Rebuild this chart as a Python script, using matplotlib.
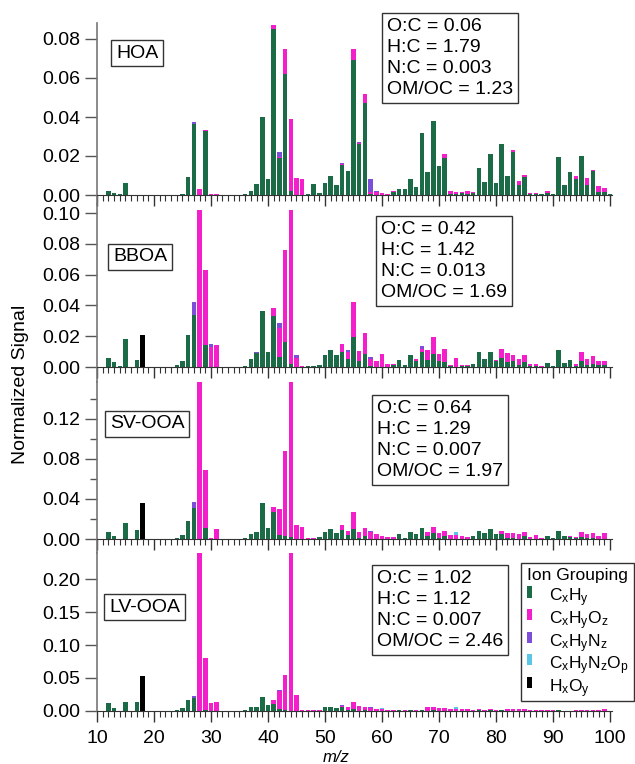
import numpy as np
import matplotlib
matplotlib.use('Agg')
import matplotlib.pyplot as plt
from matplotlib.patches import Patch
from matplotlib.ticker import MultipleLocator, FormatStrFormatter

plt.rcParams['font.family'] = ['Liberation Sans', 'DejaVu Sans']
plt.rcParams['mathtext.fontset'] = 'custom'
plt.rcParams['mathtext.rm'] = 'Liberation Sans'
plt.rcParams['mathtext.it'] = 'Liberation Sans:italic'

# m/z axis
mz = np.arange(12, 101)

# ion groups and colours
group_labels = [r'C$_\mathregular{x}$H$_\mathregular{y}$',
                r'C$_\mathregular{x}$H$_\mathregular{y}$O$_\mathregular{z}$',
                r'C$_\mathregular{x}$H$_\mathregular{y}$N$_\mathregular{z}$',
                r'C$_\mathregular{x}$H$_\mathregular{y}$N$_\mathregular{z}$O$_\mathregular{p}$',
                r'H$_\mathregular{x}$O$_\mathregular{y}$']
group_colors = ['#1b6b47', '#f21fca', '#7d4fd8', '#5cc6e6', '#000000']

# ---- HOA ----
hoa_cxhy = {12: 0.002, 13: 0.001, 14: 0.0005, 15: 0.006, 25: 0.0005, 26: 0.009, 27: 0.0365, 29: 0.033,
            36: 0.0005, 37: 0.0018, 38: 0.0055, 39: 0.040, 40: 0.008, 41: 0.085, 42: 0.019, 43: 0.062,
            44: 0.002, 47: 0.0005, 48: 0.0055, 49: 0.0008, 50: 0.006, 51: 0.0098, 52: 0.005, 53: 0.0155,
            54: 0.0125, 55: 0.069, 56: 0.026, 57: 0.047, 58: 0.0005, 62: 0.0015, 63: 0.003, 64: 0.003,
            65: 0.008, 66: 0.004, 67: 0.032, 68: 0.012, 69: 0.038, 70: 0.015, 71: 0.019, 72: 0.0005,
            73: 0.0003, 74: 0.0008, 75: 0.0005, 76: 0.0008, 77: 0.014, 78: 0.0065, 79: 0.021, 80: 0.006,
            81: 0.026, 82: 0.0095, 83: 0.022, 84: 0.005, 85: 0.009, 86: 0.0003, 87: 0.0003, 88: 0.0003,
            89: 0.001, 90: 0.0003, 91: 0.0195, 92: 0.005, 93: 0.012, 94: 0.008, 95: 0.020, 96: 0.005,
            97: 0.0125, 98: 0.0015, 99: 0.0015, 100: 0.0003}
hoa_cxhyoz = {28: 0.003, 29: 0.0003, 30: 0.0003, 31: 0.0003, 41: 0.002, 42: 0.0003, 43: 0.013, 44: 0.037,
              45: 0.0085, 46: 0.008, 53: 0.0003, 55: 0.006, 56: 0.0005, 57: 0.005, 58: 0.001, 59: 0.0015,
              60: 0.001, 61: 0.0003, 62: 0.0003, 71: 0.002, 72: 0.0015, 73: 0.001, 74: 0.0007, 75: 0.0018,
              76: 0.0005, 83: 0.001, 84: 0.002, 85: 0.0015, 86: 0.0005, 87: 0.0005, 88: 0.0003, 89: 0.001,
              94: 0.0015, 96: 0.0035, 97: 0.0005, 98: 0.003, 99: 0.002}
hoa_cxhynz = {27: 0.001, 42: 0.003, 53: 0.0005, 56: 0.0007, 58: 0.0065, 59: 0.0003}
hoa_cxhynzop = {}
hoa_hxoy = {}

# ---- BBOA ----
bboa_cxhy = {12: 0.006, 13: 0.003, 14: 0.0005, 15: 0.018, 17: 0.0045, 24: 0.001, 25: 0.004, 26: 0.0205,
             27: 0.034, 29: 0.0145, 36: 0.0005, 37: 0.0055, 38: 0.009, 39: 0.0365, 40: 0.0095, 41: 0.033,
             42: 0.0065, 43: 0.016, 44: 0.002, 47: 0.0005, 48: 0.0005, 49: 0.001, 50: 0.008, 51: 0.011,
             52: 0.008, 53: 0.0097, 54: 0.005, 55: 0.0195, 56: 0.004, 57: 0.0087, 58: 0.0005, 62: 0.001,
             63: 0.0048, 64: 0.001, 65: 0.0076, 66: 0.004, 67: 0.010, 68: 0.0048, 69: 0.0087, 70: 0.0037,
             71: 0.0032, 72: 0.0005, 74: 0.0005, 75: 0.0005, 76: 0.0017, 77: 0.010, 78: 0.005, 79: 0.0097,
             80: 0.0037, 81: 0.006, 82: 0.003, 83: 0.004, 84: 0.0015, 85: 0.003, 86: 0.0008, 87: 0.0008,
             88: 0.0003, 89: 0.0028, 90: 0.0008, 91: 0.0113, 92: 0.0028, 93: 0.0043, 94: 0.0008, 95: 0.004,
             96: 0.0015, 97: 0.002, 98: 0.001, 99: 0.001}
bboa_cxhyoz = {28: 0.102, 29: 0.0485, 30: 0.013, 31: 0.014, 41: 0.0055, 42: 0.019, 43: 0.0597, 44: 0.100,
               45: 0.006, 46: 0.0005, 53: 0.0053, 54: 0.005, 55: 0.0225, 56: 0.0064, 57: 0.0133, 58: 0.005,
               59: 0.0037, 60: 0.0087, 61: 0.0017, 62: 0.0007, 66: 0.0014, 67: 0.0014, 68: 0.0062,
               69: 0.0108, 70: 0.005, 71: 0.0088, 72: 0.0005, 73: 0.006, 74: 0.0005, 75: 0.0005, 80: 0.0011,
               81: 0.006, 82: 0.0063, 83: 0.0036, 84: 0.0035, 85: 0.005, 86: 0.0012, 87: 0.0009,
               88: 0.0002, 94: 0.0012, 95: 0.0055, 96: 0.0035, 97: 0.005, 98: 0.003, 99: 0.003}
bboa_cxhynz = {27: 0.008, 30: 0.002, 38: 0.001, 42: 0.003, 45: 0.002, 54: 0.001, 58: 0.001, 67: 0.002}
bboa_cxhynzop = {}
bboa_hxoy = {18: 0.0205}

# ---- SV-OOA ----
sv_cxhy = {12: 0.0073, 13: 0.003, 15: 0.016, 17: 0.009, 24: 0.001, 25: 0.0037, 26: 0.018, 27: 0.0306,
           29: 0.0106, 36: 0.0005, 37: 0.0047, 38: 0.0073, 39: 0.036, 40: 0.011, 41: 0.0266, 42: 0.004,
           43: 0.003, 44: 0.002, 49: 0.0017, 50: 0.0073, 51: 0.0096, 52: 0.0063, 53: 0.009, 54: 0.004,
           55: 0.0096, 56: 0.001, 57: 0.003, 63: 0.0047, 64: 0.001, 65: 0.0073, 66: 0.0047, 67: 0.011,
           68: 0.003, 69: 0.006, 70: 0.001, 71: 0.003, 76: 0.003, 77: 0.0083, 78: 0.0056, 79: 0.0096,
           80: 0.0047, 81: 0.0047, 82: 0.001, 83: 0.001, 85: 0.003, 89: 0.0033, 90: 0.001, 91: 0.0083,
           92: 0.0033, 93: 0.002, 94: 0.001, 95: 0.002, 96: 0.001, 97: 0.001}
sv_cxhyoz = {28: 0.17, 29: 0.0584, 30: 0.0005, 31: 0.0096, 41: 0.005, 42: 0.026, 43: 0.085, 44: 0.17,
             45: 0.014, 46: 0.0116, 47: 0.001, 48: 0.0005, 53: 0.005, 54: 0.0043, 55: 0.0174, 56: 0.0063,
             57: 0.0076, 58: 0.007, 59: 0.0047, 60: 0.0033, 61: 0.002, 62: 0.002, 68: 0.0043, 69: 0.0063,
             70: 0.0046, 71: 0.0053, 72: 0.004, 73: 0.004, 74: 0.003, 75: 0.002, 81: 0.0028, 82: 0.0053,
             83: 0.0046, 84: 0.0047, 85: 0.004, 86: 0.002, 87: 0.0043, 88: 0.001, 93: 0.0005, 94: 0.001,
             95: 0.005, 96: 0.0037, 97: 0.0046, 98: 0.0033, 99: 0.0056}
sv_cxhynz = {27: 0.0059, 30: 0.0005, 58: 0.001, 81: 0.0005}
sv_cxhynzop = {73: 0.003}
sv_hxoy = {18: 0.036}

# ---- LV-OOA ----
lv_cxhy = {12: 0.011, 13: 0.0046, 15: 0.013, 17: 0.0127, 24: 0.001, 25: 0.0046, 26: 0.016, 27: 0.019,
           29: 0.001, 36: 0.001, 37: 0.005, 38: 0.006, 39: 0.021, 40: 0.009, 41: 0.010, 42: 0.002,
           43: 0.001, 50: 0.006, 51: 0.005, 52: 0.0045, 53: 0.005, 54: 0.001, 55: 0.002, 57: 0.0015,
           63: 0.001, 65: 0.0015, 67: 0.0015, 69: 0.0015, 77: 0.001, 79: 0.001, 81: 0.001, 91: 0.001}
lv_cxhyoz = {28: 0.30, 29: 0.079, 30: 0.011, 31: 0.0127, 41: 0.007, 42: 0.028, 43: 0.053, 44: 0.30,
             45: 0.024, 46: 0.001, 47: 0.001, 48: 0.0005, 49: 0.001, 51: 0.001, 53: 0.0015, 54: 0.004,
             55: 0.011, 56: 0.007, 57: 0.0045, 58: 0.0045, 59: 0.003, 60: 0.003, 61: 0.001, 62: 0.001,
             64: 0.001, 66: 0.001, 68: 0.005, 69: 0.0045, 70: 0.004, 71: 0.0045, 72: 0.003, 73: 0.003,
             74: 0.003, 75: 0.002, 76: 0.0015, 77: 0.0015, 78: 0.0015, 79: 0.0015, 80: 0.0015, 82: 0.0025,
             83: 0.003, 84: 0.0025, 85: 0.003, 86: 0.0015, 87: 0.001, 88: 0.001, 89: 0.001, 90: 0.001,
             94: 0.001, 95: 0.0015, 96: 0.0015, 97: 0.0015, 98: 0.001, 99: 0.003}
lv_cxhynz = {27: 0.004, 42: 0.002, 53: 0.002, 58: 0.0005}
lv_cxhynzop = {60: 0.0005, 73: 0.002}
lv_hxoy = {18: 0.053}

factor_names = ['HOA', 'BBOA', 'SV-OOA', 'LV-OOA']
factor_groups = [
    [hoa_cxhy, hoa_cxhyoz, hoa_cxhynz, hoa_cxhynzop, hoa_hxoy],
    [bboa_cxhy, bboa_cxhyoz, bboa_cxhynz, bboa_cxhynzop, bboa_hxoy],
    [sv_cxhy, sv_cxhyoz, sv_cxhynz, sv_cxhynzop, sv_hxoy],
    [lv_cxhy, lv_cxhyoz, lv_cxhynz, lv_cxhynzop, lv_hxoy],
]

# elemental ratios
oc_ratio = ['0.06', '0.42', '0.64', '1.02']
hc_ratio = ['1.79', '1.42', '1.29', '1.12']
nc_ratio = ['0.003', '0.013', '0.007', '0.007']
omoc_ratio = ['1.23', '1.69', '1.97', '2.46']

y_ticks = [[0, 0.02, 0.04, 0.06, 0.08],
           [0, 0.02, 0.04, 0.06, 0.08, 0.10],
           [0, 0.04, 0.08, 0.12],
           [0, 0.05, 0.10, 0.15, 0.20]]

# layout in pixels: (top, zero line, px per 0.01, bottom)
W, H = 635, 764
panels_px = [(23.4, 195.0, 19.5, 203.8),
             (203.8, 367.0, 15.4, 381.5),
             (381.5, 539.0, 10.03, 553.0),
             (553.0, 710.7, 6.57, 710.7)]
name_px = [(116, 53), (113, 257), (110, 424), (109, 607)]
ratio_px = [(387, 18), (381, 221), (377, 400), (377, 570)]

fig = plt.figure(figsize=(W / 100, H / 100), dpi=100)
x0, x1 = 97, 611.7

for i, name in enumerate(factor_names):
    top, base, pxper, bottom = panels_px[i]
    ax = fig.add_axes([x0 / W, 1 - bottom / H, (x1 - x0) / W, (bottom - top) / H])
    ax.patch.set_visible(False)

    bottoms = np.zeros(len(mz))
    for g, d in enumerate(factor_groups[i]):
        vals = np.array([d.get(m, 0.0) for m in mz])
        ax.bar(mz, vals, bottom=bottoms, width=0.8, color=group_colors[g], linewidth=0)
        bottoms += vals

    ax.set_xlim(10, 100.3)
    ax.set_ylim(-(bottom - base) / pxper * 0.01, (base - top) / pxper * 0.01)

    for s in ['top', 'right']:
        ax.spines[s].set_visible(False)
    ax.spines['bottom'].set_position(('data', 0))
    ax.spines['bottom'].set_color('#333333')
    ax.spines['left'].set_color('#777777')
    ax.spines['left'].set_linewidth(1.2)

    ax.set_yticks(y_ticks[i])
    ax.yaxis.set_major_formatter(FormatStrFormatter('%.2f'))
    if i == 2:
        ax.yaxis.set_minor_locator(MultipleLocator(0.02))
    ax.tick_params(axis='y', direction='out', length=9, width=1, color='#555555',
                   labelsize=14, pad=3)
    ax.tick_params(axis='y', which='minor', direction='out', length=5, width=1, color='#555555')

    ax.xaxis.set_major_locator(MultipleLocator(10))
    ax.xaxis.set_minor_locator(MultipleLocator(1))
    ax.tick_params(axis='x', which='major', direction='out', length=8, width=1, color='#333333',
                   labelsize=14, pad=6)
    ax.tick_params(axis='x', which='minor', direction='out', length=4, width=0.8, color='#333333')
    if i < 3:
        ax.tick_params(axis='x', labelbottom=False)

    nx, ny = name_px[i]
    fig.text(nx / W, 1 - ny / H, name, fontsize=14, ha='left', va='center',
             bbox=dict(boxstyle='square,pad=0.25', fc='white', ec='#333333', lw=1))

    rx, ry = ratio_px[i]
    txt = ('O:C = %s\nH:C = %s\nN:C = %s\nOM/OC = %s'
           % (oc_ratio[i], hc_ratio[i], nc_ratio[i], omoc_ratio[i]))
    fig.text(rx / W, 1 - ry / H, txt, fontsize=14, ha='left', va='top', linespacing=1.3,
             bbox=dict(boxstyle='square,pad=0.25', fc='white', ec='#333333', lw=1))

fig.text(21 / W, 1 - 384 / H, 'Normalized Signal', fontsize=14, rotation=90, ha='center', va='center')
fig.text(336 / W, 1 - 758 / H, 'm/z', fontsize=12, style='italic', ha='center', va='center')

handles = [Patch(facecolor=c, edgecolor='none') for c in group_colors]
leg = fig.legend(handles, group_labels, title='Ion Grouping', loc='upper right',
                 bbox_to_anchor=(634 / W, 1 - 563 / H), fontsize=12.5, title_fontsize=12.5,
                 frameon=True, fancybox=False, edgecolor='black', handlelength=0.3,
                 handleheight=0.6, handletextpad=1.0, labelspacing=0.0, borderpad=0.3,
                 borderaxespad=0, alignment='left')
leg.get_frame().set_linewidth(1)
for t in leg.get_texts():
    t.set_va('center')

fig.savefig('out.png', dpi=100, facecolor='white')
